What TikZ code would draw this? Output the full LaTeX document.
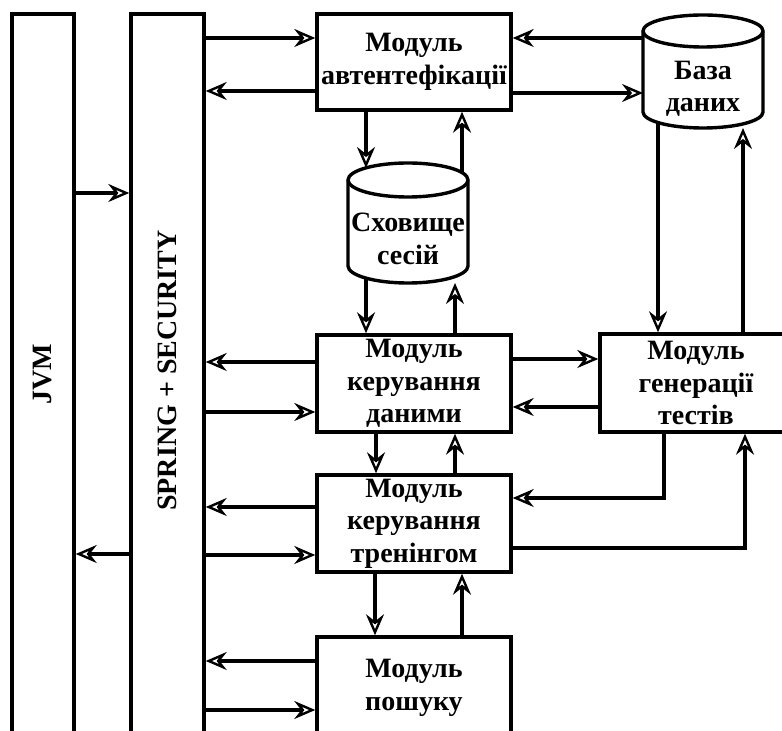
\documentclass[tikz,border=0pt]{standalone}
\usepackage{fontspec}
\setmainfont{Liberation Serif}
\usetikzlibrary{arrows.meta,calc}
\newcommand\cylpath[2]{%
  \draw ($(#1.north west)+(0,-#2)$) -- ($(#1.south west)+(0,#2)$)
    arc[start angle=180,end angle=360,x radius=60pt,y radius=#2 pt]
    -- ($(#1.north east)+(0,-#2)$)
    arc[start angle=0,end angle=180,x radius=60pt,y radius=#2 pt] -- cycle;
  \draw ($(#1.north west)+(0,-#2)$)
    arc[start angle=180,end angle=360,x radius=60pt,y radius=#2 pt];}
\begin{document}
\begin{tikzpicture}[x=1pt,y=1pt,line width=3.4pt,
  lbl/.style={font=\bfseries\fontsize{28}{32.5}\selectfont,align=center,inner sep=0pt},
  box/.style={lbl,draw,rectangle,minimum width=194pt,minimum height=97pt},
  bar/.style={draw,rectangle,inner sep=0pt,minimum height=721pt},
  cylarea/.style={rectangle,inner sep=0pt,outer sep=0pt,minimum width=120pt},
  arr/.style={-{Stealth[open,line width=2.4pt,length=21pt,width=18pt,inset=7pt]}}]
\useasboundingbox (0,0) rectangle (782,731);
\clip (0,0) rectangle (782,731);

% bars
\node[bar,minimum width=62pt] (jvm) at (43,356.5) {};
\node[lbl,rotate=90] (jvmt) at (jvm.center) {JVM};
\node[bar,minimum width=73pt] (sp) at (167.5,356.5) {};
\node[lbl,rotate=90] (spt) at ([yshift=4pt]sp.center) {SPRING + SECURITY};

% boxes
\node[box,minimum height=96pt] (auth) at (414,669) {Модуль\\автентефікації};
\node[box] (kd) at (414,347.5) {Модуль\\керування\\даними};
\node[box,minimum width=192pt,minimum height=98pt] (gen) at (696,348) {Модуль\\генерації\\тестів};
\node[box] (tr) at (414,207.5) {Модуль\\керування\\тренінгом};
\node[box,minimum height=102pt] (ps) at (414,43) {Модуль\\пошуку};

% cylinders
\node[cylarea,minimum height=113pt] (db) at (703,659.5) {};
\cylpath{db}{16}
\node[lbl] (dbt) at ([yshift=-17.5pt]db.center) {База\\даних};
\node[cylarea,minimum height=120pt] (ss) at (408,508) {};
\cylpath{ss}{17}
\node[lbl] (sst) at ([yshift=-16pt]ss.center) {Сховище\\сесій};

% rows and columns
\coordinate (ra) at (0,693);
\coordinate (rb) at (0,640);
\coordinate (rc) at (0,638);
\coordinate (rd) at (0,538);
\coordinate (re) at (0,177);
\coordinate (rf) at (0,369);
\coordinate (rg) at (0,319);
\coordinate (rh) at (0,372);
\coordinate (ri) at (0,324);
\coordinate (rj) at (0,224);
\coordinate (rk) at (0,176);
\coordinate (rl) at (0,233);
\coordinate (rm) at (0,183);
\coordinate (rn) at (0,70);
\coordinate (ro) at (0,21);
\coordinate (c366) at (366,0);
\coordinate (c462) at (462,0);
\coordinate (c455) at (455,0);
\coordinate (c658) at (658,0);
\coordinate (c743) at (743,0);
\coordinate (c376) at (376,0);
\coordinate (c375) at (375,0);
\coordinate (c664) at (664,0);
\coordinate (c745) at (745,0);

% connectors
\draw[arr] (jvm.east |- rd) -- (sp.west |- rd);
\draw[arr] (sp.west |- re) -- (jvm.east |- re);
\draw[arr] (sp.east |- ra) -- (auth.west |- ra);
\draw[arr] (auth.west |- rb) -- (sp.east |- rb);
\draw[arr] (db.west |- ra) -- (auth.east |- ra);
\draw[arr] (auth.east |- rc) -- (db.west |- rc);
\draw[arr,shorten >=-5pt] (auth.south -| c366) -- (ss.north -| c366);
\draw[arr,shorten <=-10pt] (ss.north -| c462) -- (auth.south -| c462);
\draw[arr,shorten <=-5pt] (ss.south -| c366) -- (kd.north -| c366);
\draw[arr] (kd.north -| c455) -- (ss.south -| c455);
\draw[arr] (kd.west |- rf) -- (sp.east |- rf);
\draw[arr] (sp.east |- rg) -- (kd.west |- rg);
\draw[arr] (kd.east |- rh) -- (gen.west |- rh);
\draw[arr] (gen.west |- ri) -- (kd.east |- ri);
\draw[arr,shorten <=-5pt] (db.south -| c658) -- (gen.north -| c658);
\draw[arr] (gen.north -| c743) -- (db.south -| c743);
\draw[arr] (kd.south -| c376) -- (tr.north -| c376);
\draw[arr] (tr.north -| c455) -- (kd.south -| c455);
\draw[arr] (tr.west |- rj) -- (sp.east |- rj);
\draw[arr] (sp.east |- rk) -- (tr.west |- rk);
\draw[arr] (gen.south -| c664) |- (tr.east |- rl);
\draw[arr] (tr.east |- rm) -| (gen.south -| c745);
\draw[arr] (tr.south -| c375) -- (ps.north -| c375);
\draw[arr] (ps.north -| c462) -- (tr.south -| c462);
\draw[arr] (ps.west |- rn) -- (sp.east |- rn);
\draw[arr] (sp.east |- ro) -- (ps.west |- ro);
\end{tikzpicture}
\end{document}
